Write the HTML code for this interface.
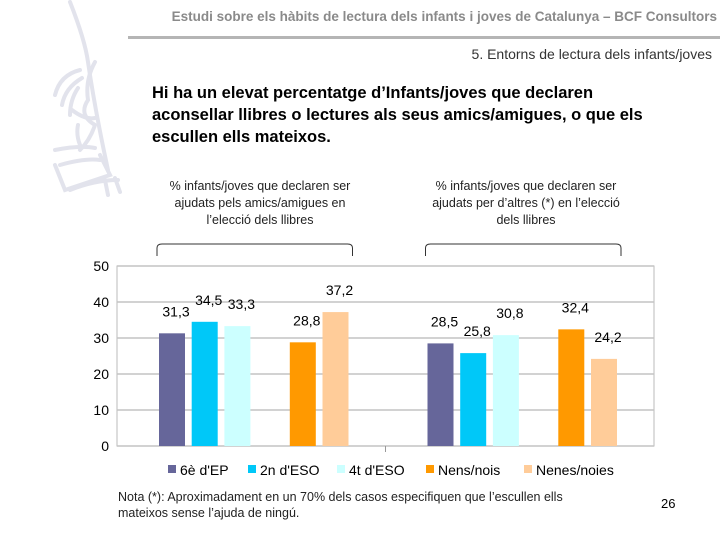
<!DOCTYPE html>
<html><head><meta charset="utf-8"><style>
body{margin:0;width:720px;height:540px;background:#fff;font-family:"Liberation Sans",sans-serif;position:relative;overflow:hidden}
.t{position:absolute;white-space:nowrap}
</style></head><body>
<svg style="position:absolute;left:0;top:0" width="160" height="240">
<g fill="none" stroke="#e2e3ec" stroke-width="4" stroke-linecap="round">
<path d="M70 2 Q85 40 88 62 Q95 110 108 170"/>
<path d="M95 62 Q85 80 88 100 Q78 115 95 125 Q90 140 80 150"/>
<path d="M80 70 Q60 75 55 95"/><path d="M82 78 Q65 88 62 105"/><path d="M78 88 Q70 100 70 115"/>
<path d="M72 110 Q85 120 95 118"/><path d="M78 125 Q76 135 80 145"/>
<path d="M55 150 Q80 145 95 148"/><path d="M60 165 Q85 158 100 160"/>
<path d="M55 165 L65 190 L110 175 L100 155"/><path d="M70 190 Q95 180 118 180"/>
<path d="M105 180 L108 195"/><path d="M115 178 L120 192"/>
</g></svg>
<div class="t" style="right:3px;top:9px;font-size:13.5px;font-weight:bold;color:#8a8a8a">Estudi sobre els hàbits de lectura dels infants i joves de Catalunya – BCF Consultors</div>
<div style="position:absolute;left:128px;top:36px;width:592px;height:3px;background:#b5b5b5"></div>
<div class="t" style="right:8px;top:46px;font-size:14px;color:#333">5. Entorns de lectura dels infants/joves</div>
<div class="t" style="left:152px;top:82px;font-size:16.5px;font-weight:bold;line-height:22px;color:#000">Hi ha un elevat percentatge d’Infants/joves que declaren<br>aconsellar llibres o lectures als seus amics/amigues, o que els<br>escullen ells mateixos.</div>
<div class="t" style="left:160px;top:178px;width:200px;text-align:center;font-size:12.5px;line-height:17px;color:#222;white-space:normal">% infants/joves que declaren ser ajudats pels amics/amigues en l’elecció dels llibres</div>
<div class="t" style="left:420px;top:178px;width:212px;text-align:center;font-size:12.5px;line-height:17px;color:#222;white-space:normal">% infants/joves que declaren ser ajudats per d’altres (*) en l’elecció dels llibres</div>
<svg id="chart" style="position:absolute;left:0;top:0" width="720" height="540"></svg>
<div class="t" style="left:118px;top:489px;font-size:12.5px;line-height:16px;color:#222">Nota (*): Aproximadament en un 70% dels casos especifiquen que l’escullen ells<br>mateixos sense l’ajuda de ningú.</div>
<div class="t" style="left:661px;top:496px;font-size:13px;color:#000">26</div>
<script>
const groups=["ajudats pels amics","ajudats per d'altres"];
const seriesNames=["6è d'EP","2n d'ESO","4t d'ESO","Nens/nois","Nenes/noies"];
const g1Values=[31.3,34.5,33.3,28.8,37.2];
const g2Values=[28.5,25.8,30.8,32.4,24.2];
const yTicks=[0,10,20,30,40,50];
const colors=["#66669a","#00c8f8","#ccffff","#ff9900","#ffcc99"];
const NS="http://www.w3.org/2000/svg";
const svg=document.getElementById('chart');
const X0=117,X1=654,Y0=446,Y1=266,YMAX=50;
const gw=(X1-X0)/groups.length;
function y(v){return Y0-(v/YMAX)*(Y0-Y1);}
function slotX(g,i){const slot=i<3?i:i+1;return X0+g*gw+42+slot*32.7;}
function el(t,a){const e=document.createElementNS(NS,t);for(const k in a)e.setAttribute(k,a[k]);svg.appendChild(e);return e;}
let e=el('rect',{x:X0,y:Y1,width:X1-X0,height:Y0-Y1,fill:'none',stroke:'#bbb'});


yTicks.forEach(v=>{
 const l=el('line',{x1:X0,x2:X1,y1:y(v),y2:y(v),stroke:'#c4c4c4','stroke-width':1.5});
 
 
 const t=el('text',{x:X0-8,y:y(v)+5,'text-anchor':'end','font-size':14,fill:'#000'});
 t.textContent=v;
 
 
});
e=el('line',{x1:X0+gw,x2:X0+gw,y1:Y0,y2:Y0+6,stroke:'#999'});


[g1Values,g2Values].forEach((vals,g)=>{
 const bx0=X0+g*gw+40,bx1=X0+g*gw+gw-33;
 const br=el('path',{d:`M${bx0} 256 L${bx0} 248 Q${bx0} 244 ${bx0+5} 244 L${bx1-5} 244 Q${bx1} 244 ${bx1} 248 L${bx1} 256`,fill:'none',stroke:'#333','stroke-width':1});
 
 
 vals.forEach((v,i)=>{
  const x=slotX(g,i);
  const r=el('rect',{x:x,y:y(v),width:26,height:Y0-y(v),fill:colors[i]});
  
  
  const t=el('text',{x:x+13+4,y:y(v)-17,'text-anchor':'middle','font-size':14,fill:'#000'});
  t.textContent=v.toFixed(1).replace('.',',');
  
  
 });
});
const legX=[168,248,337,426,524];
seriesNames.forEach((n,i)=>{
 const r=el('rect',{x:legX[i],y:465,width:8,height:8,fill:colors[i]});
 
 
 const t=el('text',{x:legX[i]+12,y:475,'font-size':14,fill:'#000'});
 t.textContent=n;
 
 
});
</script>
</body></html>
